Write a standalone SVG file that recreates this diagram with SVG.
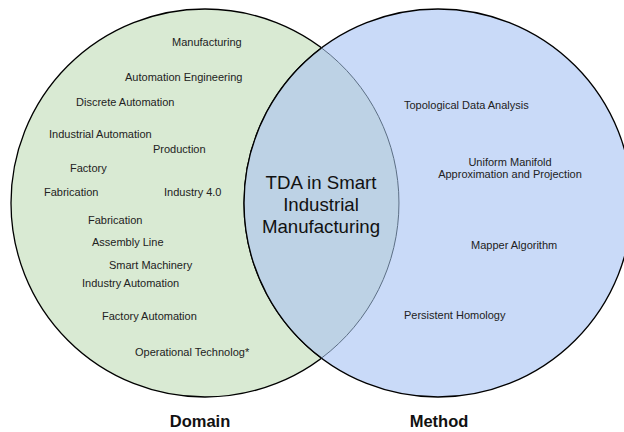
<svg xmlns="http://www.w3.org/2000/svg" width="624" height="432" viewBox="0 0 624 432">
<style>
.lbl{font-family:"Liberation Sans",Arial,sans-serif;font-size:11px;fill:#222}
.mid{text-anchor:middle}
.core{font-family:"Liberation Sans",Arial,sans-serif;font-size:18.67px;fill:#111;text-anchor:middle}
.title{font-family:"Liberation Sans",Arial,sans-serif;font-size:16.5px;font-weight:bold;fill:#111;text-anchor:middle}
</style>
<rect width="624" height="432" fill="#ffffff"/>
<g id="domain">
<circle cx="205" cy="203" r="194" fill="#d9ead3" stroke="#000" stroke-width="1.3"/>
</g>
<g id="method">
<circle cx="438" cy="203" r="194" fill="#c9daf8" stroke="#000" stroke-width="1.3"/>
</g>
<g id="overlap">
<path d="M321.5 47.9 A194 194 0 0 1 321.5 358.1 A194 194 0 0 1 321.5 47.9 Z" fill="#bdd2e5"/>
<path d="M321.5 47.9 A194 194 0 0 1 321.5 358.1" fill="none" stroke="#5c6f85" stroke-width="1"/>
<path d="M321.5 358.1 A194 194 0 0 1 321.5 47.9" fill="none" stroke="#000" stroke-width="1.3"/>
<text class="core" x="321" y="189">TDA in Smart</text>
<text class="core" x="321" y="211">Industrial</text>
<text class="core" x="321" y="233">Manufacturing</text>
</g>
<g id="domain-terms">
<text class="lbl" x="172" y="46">Manufacturing</text>
<text class="lbl" x="125" y="81">Automation Engineering</text>
<text class="lbl" x="76" y="106">Discrete Automation</text>
<text class="lbl" x="49" y="138">Industrial Automation</text>
<text class="lbl" x="153" y="153">Production</text>
<text class="lbl" x="70" y="172">Factory</text>
<text class="lbl" x="44" y="196">Fabrication</text>
<text class="lbl" x="164" y="196">Industry 4.0</text>
<text class="lbl" x="88" y="224">Fabrication</text>
<text class="lbl" x="92" y="246">Assembly Line</text>
<text class="lbl" x="109" y="269">Smart Machinery</text>
<text class="lbl" x="82" y="287">Industry Automation</text>
<text class="lbl" x="102" y="320">Factory Automation</text>
<text class="lbl" x="135" y="356">Operational Technolog*</text>
</g>
<g id="method-terms">
<text class="lbl" x="404" y="109">Topological Data Analysis</text>
<text class="lbl mid" x="510" y="166">Uniform Manifold</text>
<text class="lbl mid" x="510" y="178">Approximation and Projection</text>
<text class="lbl" x="471" y="249">Mapper Algorithm</text>
<text class="lbl" x="404" y="319">Persistent Homology</text>
</g>
<g id="domain-title"><text class="title" x="200" y="427">Domain</text></g>
<g id="method-title"><text class="title" x="439" y="427">Method</text></g>
</svg>
